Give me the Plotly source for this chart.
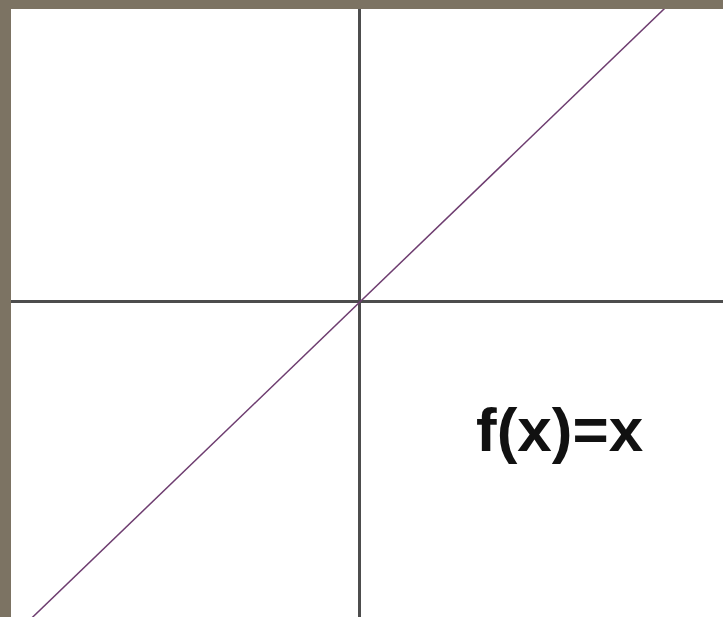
import plotly.graph_objects as go

# Data: f(x) = x
xs = [-7, 7]
ys = [-7, 7]
label = "f(x)=x"

fig = go.Figure()
fig.add_trace(go.Scatter(x=xs, y=ys, mode="lines",
                         line=dict(color="#6e3d70", width=1.5),
                         hoverinfo="skip", showlegend=False))

fig.add_annotation(x=3.21, y=-2.13, xref="x", yref="y", text="<b>" + label + "</b>",
                   showarrow=False, xanchor="center", yanchor="middle",
                   font=dict(family="Liberation Sans, Arial", size=62, color="#111111"))

axis_common = dict(showgrid=False, showticklabels=False, ticks="",
                   zeroline=True, zerolinecolor="#4d4d4d", zerolinewidth=3,
                   showline=False, fixedrange=True)
fig.update_xaxes(range=[-5.60, 5.83], **axis_common)
fig.update_yaxes(range=[-5.25, 4.883], **axis_common)

fig.update_layout(width=723, height=617,
                  margin=dict(l=11, r=0, t=9, b=0),
                  paper_bgcolor="#7c7363", plot_bgcolor="#ffffff",
                  showlegend=False)

fig.write_html("out.html", config={"displayModeBar": False},
               post_script="document.body.style.margin='0';document.body.style.overflow='hidden';")
